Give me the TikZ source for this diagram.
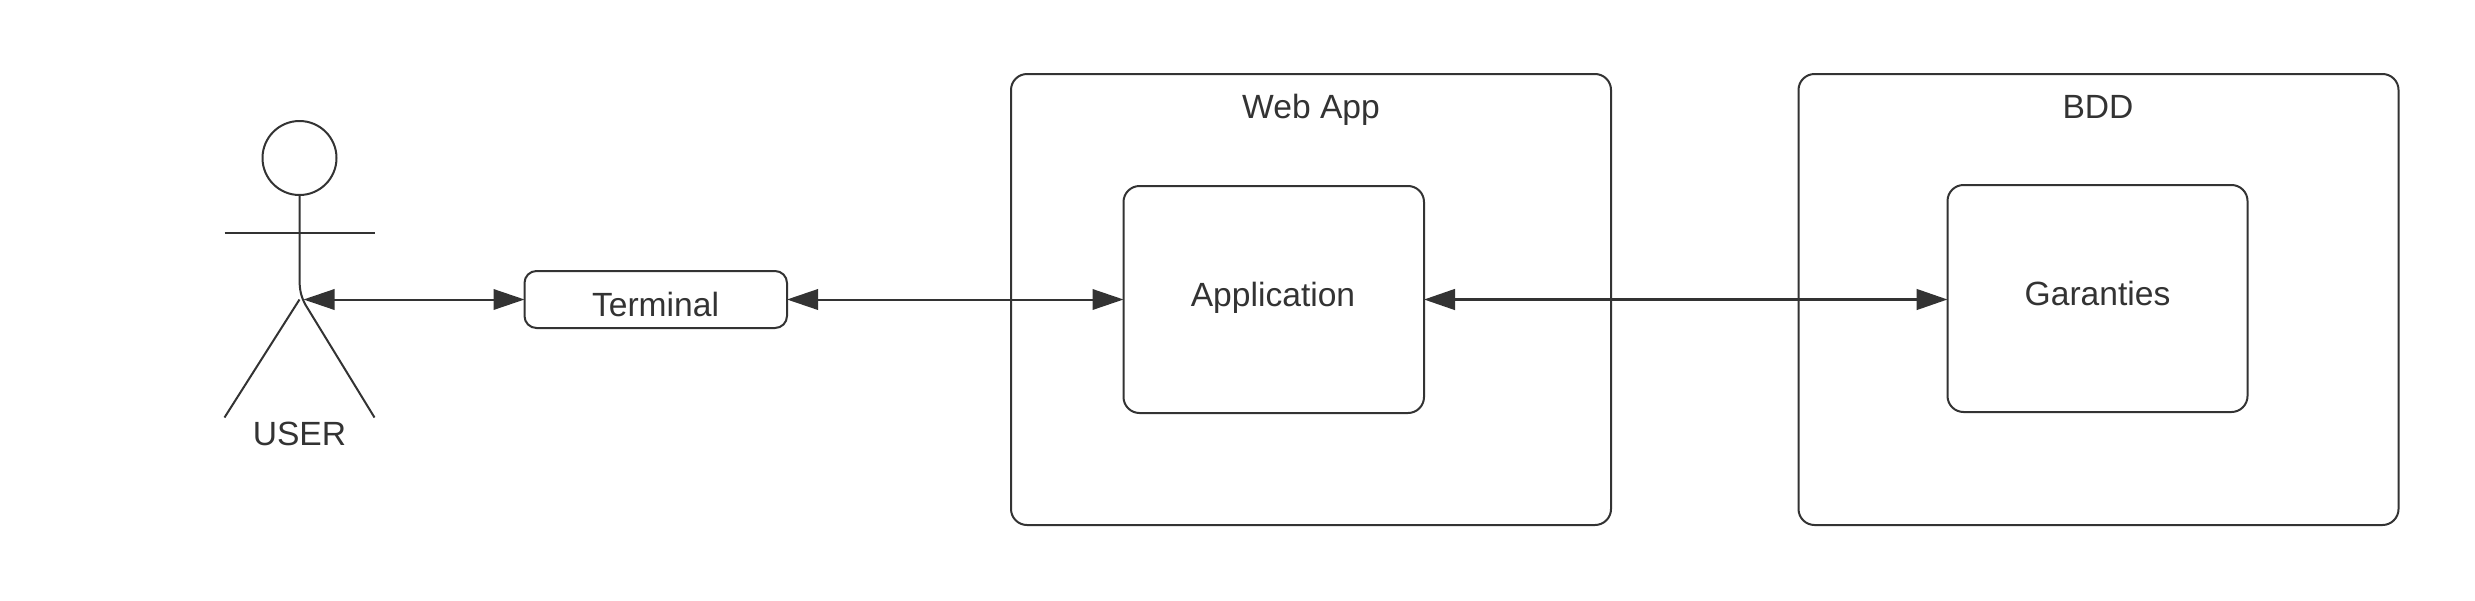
\documentclass[tikz,border=0pt]{standalone}
\usepackage{fontspec}
\setmainfont{Liberation Sans}
\usetikzlibrary{arrows.meta}
\definecolor{ink}{HTML}{333333}
\tikzset{
  boxnode/.style={draw=ink,line width=2pt,rounded corners=#1,inner sep=0pt,outer sep=0pt,fill=none,anchor=north west},
  boxnode/.default=16pt,
  textlabel/.style={text=ink,font=\fontsize{33.6}{38}\selectfont,anchor=base,inner sep=0pt},
  link/.style={draw=ink,line width=2pt,{Triangle[length=31pt,width=20.5pt]}-{Triangle[length=31pt,width=20.5pt]},shorten <=0pt,shorten >=0pt},
  limb/.style={draw=ink,line width=2pt}
}
\begin{document}
\begin{tikzpicture}[x=1pt,y=-1pt]
\useasboundingbox (0,0) rectangle (2475,600);
% containers
\node[boxnode,minimum width=600pt,minimum height=451pt] (web) at (1011,74) {};
\node[boxnode,minimum width=600pt,minimum height=451pt] (bdd) at (1798.5,74) {};
\node[boxnode,minimum width=300.5pt,minimum height=227pt] (app) at (1123.5,186) {};
\node[boxnode,minimum width=300pt,minimum height=227pt] (gar) at (1947.5,185) {};
\node[boxnode=12pt,minimum width=262.5pt,minimum height=57pt] (term) at (524.5,271) {};
% labels
\node[textlabel] (webt) at (1311,118) {Web App};
\node[textlabel] (bddt) at (2098,118) {BDD};
\node[textlabel] (appt) at (1273,306) {Application};
\node[textlabel] (gart) at (2097.5,305) {Garanties};
\node[textlabel] (termt) at (655.5,316) {Terminal};
\node[textlabel] (usert) at (299.5,445) {USER};
% actor
\node[draw=ink,line width=2pt,circle,minimum size=74pt,inner sep=0pt,outer sep=0pt] (head) at (299.5,158) {};
\coordinate (armL) at (224.5,232.5);
\coordinate (armR) at (374.5,232.5);
\coordinate (hips) at (303.5,299.5);
\coordinate (footL) at (224.5,417.5);
\coordinate (footR) at (374.5,417.5);
\draw[limb] (armL) -- (armR);
\draw[limb] (head.south) -- (299.5,278) .. controls (299.5,290) and (301,296) .. (305,304) -- (footR);
\draw[limb] (299.5,299.5) -- (footL);
% connectors
\draw[link] (hips) -- (term.west |- hips);
\draw[link] (term.east) -- (app.west);
\draw[link,line width=3pt] (app.east) -- (gar.west |- app.east);
\end{tikzpicture}
\end{document}
